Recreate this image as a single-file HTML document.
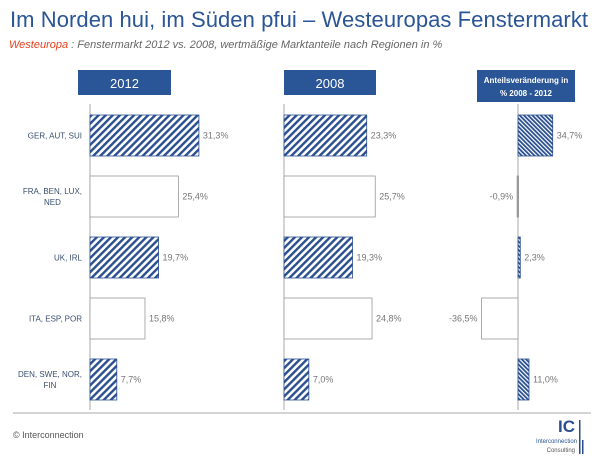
<!DOCTYPE html>
<html><head><meta charset="utf-8">
<style>
body{margin:0;width:600px;height:459px;background:#fff;overflow:hidden;font-family:"Liberation Sans",sans-serif;}
svg{display:block}
</style></head>
<body>
<svg id="c" width="600" height="459">
<defs>
<pattern id="h1" patternUnits="userSpaceOnUse" width="5" height="5" patternTransform="rotate(45)">
<rect width="5" height="5" fill="#fff"/><rect width="2.4" height="5" fill="#2a4f8f"/></pattern>
<pattern id="h2" patternUnits="userSpaceOnUse" width="3" height="3" patternTransform="rotate(-45)">
<rect width="3" height="3" fill="#fff"/><rect width="1.8" height="3" fill="#2a4f8f"/></pattern>
</defs>
<text x="10" y="27" font-size="22" fill="#2a5596" textLength="578">Im Norden hui, im Süden pfui – Westeuropas Fenstermarkt</text>
<text x="9" y="48" font-size="11" font-style="italic" fill="#666"><tspan fill="#e8401c">Westeuropa</tspan> : Fenstermarkt 2012 vs. 2008, wertmäßige Marktanteile nach Regionen in %</text>
<rect x="78" y="70" width="93" height="25" fill="#2a5596"/>
<text x="124.5" y="88" font-size="13" fill="#fff" text-anchor="middle">2012</text>
<rect x="284" y="70" width="92" height="25" fill="#2a5596"/>
<text x="330" y="88" font-size="13" fill="#fff" text-anchor="middle">2008</text>
<rect x="477" y="70" width="98" height="32" fill="#2a5596"/>
<text x="526" y="83" font-size="8" font-weight="bold" fill="#fff" text-anchor="middle">Anteilsveränderung in</text>
<text x="526" y="96" font-size="8" font-weight="bold" fill="#fff" text-anchor="middle">% 2008 - 2012</text>
<line x1="13" y1="413" x2="591" y2="413" stroke="#bbb" stroke-width="1.2"/>
<text x="13" y="438" font-size="9" fill="#555">© Interconnection</text>
<text x="575" y="432" font-size="17" font-weight="bold" fill="#2a4f8f" text-anchor="end">IC</text>
<text x="577" y="443" font-size="6" fill="#2a5596" text-anchor="end">Interconnection</text>
<text x="575" y="452" font-size="6" fill="#555" text-anchor="end">Consulting</text>
<rect x="579" y="420" width="1.5" height="34" fill="#2a4f8f"/>
<rect x="582" y="440" width="1.5" height="14" fill="#2a4f8f"/>
<g id="g"></g>
</svg>
<script>
const categories = [["GER, AUT, SUI"],["FRA, BEN, LUX,","NED"],["UK, IRL"],["ITA, ESP, POR"],["DEN, SWE, NOR,","FIN"]];
const values2012 = [31.3, 25.4, 19.7, 15.8, 7.7];
const values2008 = [23.3, 25.7, 19.3, 24.8, 7.0];
const valuesChange = [34.7, -0.9, 2.3, -36.5, 11.0];
const hatched = [true, false, true, false, true];

const NS = "http://www.w3.org/2000/svg";
const g = document.getElementById('g');
function el(t, a){const e=document.createElementNS(NS,t);for(const k in a)e.setAttribute(k,a[k]);g.appendChild(e);return e;}
const rowY = i => 115 + i*61;
const barH = 41;
const fmt = v => v.toFixed(1).replace('.', ',') + '%';

const panels = [
  {name:'2012', x0:90, scale:3.48, vals:values2012},
  {name:'2008', x0:284, scale:3.55, vals:values2008},
  {name:'change', x0:518, scale:1.0, vals:valuesChange}
];
panels.forEach(p=>{
  const ax = el('line',{x1:p.x0,y1:104,x2:p.x0,y2:410,stroke:'#aaa','stroke-width':1});
  
  
  p.vals.forEach((v,i)=>{
    const w = Math.abs(v)*p.scale;
    const x = v>=0 ? p.x0 : p.x0-w;
    const y = rowY(i);
    let fill, stroke;
    if(p.name==='change'){ fill = v>=0 ? 'url(#h2)' : '#fff'; stroke = v>=0 ? '#2a4f8f' : '#999'; if(Math.abs(v)<1){fill='#999';} }
    else { fill = hatched[i] ? 'url(#h1)' : '#fff'; stroke = hatched[i] ? '#2a4f8f' : '#999'; }
    const r = el('rect',{x:x,y:y,width:Math.max(w,1.5),height:barH,fill:fill,stroke:stroke,'stroke-width':0.8});
    
    
    const lx = v>=0 ? p.x0 + w + 4 : p.x0 - w - 4;
    const t = el('text',{x:lx,y:y+barH/2+3,'font-size':9,fill:'#777','text-anchor':v>=0?'start':'end'});
    t.textContent = fmt(v);
    
    
  });
});
categories.forEach((c,i)=>{
  const cy = rowY(i)+barH/2;
  let center = null;
  c.forEach((line,j)=>{
    const y = cy+3 + (j - (c.length-1)/2)*11;
    const t = el('text',{x:82,y:y,'font-size':8,fill:'#3a4f70','text-anchor':'end'});
    t.textContent = line;
    
    
    if(j===0){ center = 82 - t.getComputedTextLength()/2; }
    else { t.setAttribute('x', center); t.setAttribute('text-anchor','middle'); }
  });
});
</script>
</body></html>
